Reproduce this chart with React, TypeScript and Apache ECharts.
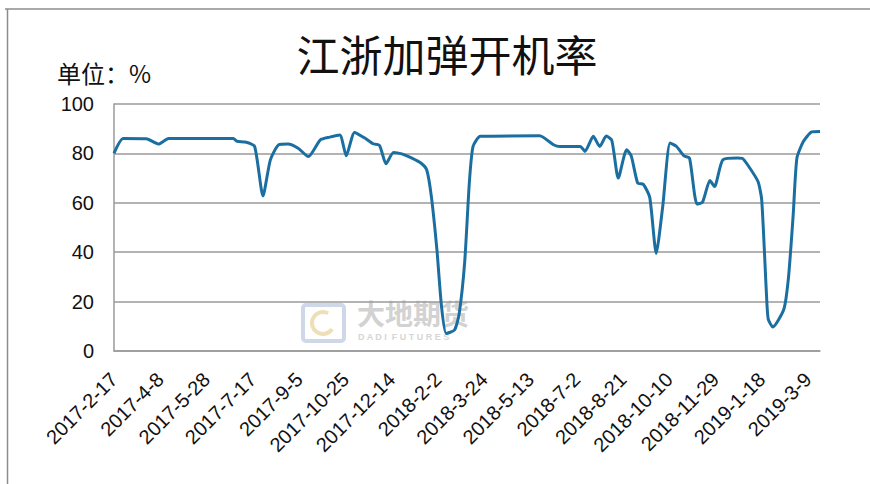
import React, { useEffect, useRef } from "react";
import * as echarts from "echarts";

const title = "江浙加弹开机率";
const unitLabel = "单位：%";
const startDate = "2017-2-17";
const endDate = "2019-3-22";
const labelStepDays = 50;
const yTicks = [0, 20, 40, 60, 80, 100];

const dates = [
  "2017-2-17", "2017-2-27", "2017-3-24", "2017-4-6", "2017-4-17", "2017-6-26", "2017-6-30", "2017-7-9",
  "2017-7-19", "2017-7-28", "2017-8-5", "2017-8-14", "2017-8-24", "2017-9-4", "2017-9-15", "2017-9-28",
  "2017-10-8", "2017-10-19", "2017-10-26", "2017-11-4", "2017-11-15", "2017-11-24", "2017-12-1", "2017-12-8",
  "2017-12-16", "2017-12-25", "2018-1-5", "2018-1-15", "2018-1-21", "2018-1-26", "2018-2-1", "2018-2-6",
  "2018-2-11", "2018-2-20", "2018-2-25", "2018-3-3", "2018-3-8", "2018-3-12", "2018-3-20", "2018-5-23",
  "2018-6-7", "2018-6-14", "2018-7-6", "2018-7-11", "2018-7-20", "2018-7-27", "2018-8-3", "2018-8-9",
  "2018-8-16", "2018-8-25", "2018-8-30", "2018-9-6", "2018-9-12", "2018-9-19", "2018-9-26", "2018-10-3",
  "2018-10-11", "2018-10-18", "2018-10-26", "2018-11-1", "2018-11-9", "2018-11-15", "2018-11-23", "2018-11-28",
  "2018-12-7", "2018-12-23", "2018-12-28", "2019-1-4", "2019-1-14", "2019-1-18", "2019-1-23", "2019-1-25",
  "2019-1-30", "2019-2-11", "2019-2-16", "2019-2-21", "2019-2-25", "2019-3-4", "2019-3-13", "2019-3-22",
];

const rates = [
  80, 86, 85.9, 83.8, 86, 86, 84.9, 84.6,
  82.8, 62.8, 77.4, 83.5, 83.8, 82.1, 78.7, 85.5,
  86.6, 87.5, 79, 88.5, 86.2, 83.9, 83.2, 75.8,
  80.4, 79.8, 78.1, 76, 73.3, 62.5, 40.9, 17.9,
  7.1, 8.5, 15, 36, 68, 82.8, 86.9, 87.1,
  83.5, 82.8, 82.8, 80.8, 86.9, 82.8, 87, 85.3,
  70, 81.5, 79, 67.9, 67.5, 62.2, 39.5, 58.4,
  84.2, 82.8, 79, 78.1, 59.5, 60.2, 69, 66.6,
  77.4, 78.1, 78, 74.7, 68.6, 61.2, 24, 13,
  9.7, 17, 30, 55, 78, 84.8, 88.7, 88.9,
];

const DAY = 86400000;
function toUTC(s: string) {
  const [y, m, d] = s.split("-").map(Number);
  return Date.UTC(y, m - 1, d);
}
function dayOffset(s: string) {
  return Math.round((toUTC(s) - toUTC(startDate)) / DAY);
}
function dayLabel(v: number) {
  const dt = new Date(toUTC(startDate) + v * DAY);
  return `${dt.getUTCFullYear()}-${dt.getUTCMonth() + 1}-${dt.getUTCDate()}`;
}

export default function App() {
  const ref = useRef<HTMLDivElement>(null);
  useEffect(() => {
    if (!ref.current) return;
    const chart = echarts.init(ref.current, null, { renderer: "svg" });
    const gray = "#9a9a9a";
    chart.setOption({
      animation: false,
      backgroundColor: "#ffffff",
      grid: { left: 114, right: 50, top: 104, bottom: 133, containLabel: false },
      title: {
        text: title,
        left: 442,
        top: 26,
        textAlign: "center",
        textStyle: { fontFamily: "Noto Sans CJK SC", fontSize: 43, fontWeight: "normal", color: "#111" },
      },
      graphic: [
        { type: "line", shape: { x1: 5, y1: 9, x2: 870, y2: 9 }, style: { stroke: "#8c8c8c", lineWidth: 1.5 } },
        { type: "line", shape: { x1: 7.5, y1: 9, x2: 7.5, y2: 484 }, style: { stroke: "#8c8c8c", lineWidth: 1.5 } },
        {
          type: "text",
          left: 57,
          top: 60,
          style: { text: unitLabel, font: "24px 'Noto Sans CJK SC'", fill: "#111" },
        },
        {
          type: "group",
          z: 1,
          children: [
            { type: "rect", shape: { x: 303, y: 305, width: 41, height: 36, r: 3 }, style: { fill: "none", stroke: "#cfd8e8", lineWidth: 4 } },
            { type: "arc", shape: { cx: 323, cy: 323, r: 11, startAngle: 0.6, endAngle: 5.2 }, style: { fill: "none", stroke: "#eedfb8", lineWidth: 4 } },
            { type: "text", x: 357, y: 299, style: { text: "大地期货", font: "bold 28px 'Noto Sans CJK SC'", fill: "#d2d2d2" } },
            { type: "text", x: 358, y: 332, style: { text: "D A D I  F U T U R E S", font: "bold 9px 'Liberation Sans'", fill: "#d6d6d6" } },
          ],
        },
      ],
      xAxis: {
        type: "value",
        min: 0,
        max: dayOffset(endDate),
        interval: labelStepDays,
        axisLine: { show: true, onZero: false, lineStyle: { color: gray, width: 1.5 } },
        axisTick: { show: false },
        splitLine: { show: false },
        axisLabel: {
          rotate: 45,
          margin: 25,
          showMaxLabel: false,
          color: "#111",
          fontSize: 20,
          fontFamily: "Liberation Sans",
          formatter: (v: number) => dayLabel(v),
        },
      },
      yAxis: {
        type: "value",
        min: yTicks[0],
        max: yTicks[yTicks.length - 1],
        interval: 20,
        axisLine: { show: true, lineStyle: { color: gray, width: 1.5 } },
        axisTick: { show: false },
        splitLine: { show: true, lineStyle: { color: gray, width: 1.5 } },
        axisLabel: { margin: 20, color: "#111", fontSize: 20, fontFamily: "Liberation Sans" },
      },
      series: [
        {
          type: "line",
          data: dates.map((d, i) => [dayOffset(d), rates[i]]),
          showSymbol: false,
          smooth: 0.2,
          z: 5,
          lineStyle: { color: "#1B6FA0", width: 3 },
        },
      ],
    });
    return () => chart.dispose();
  }, []);
  return <div ref={ref} style={{ width: 870, height: 484, position: "fixed", left: 0, top: 0 }} />;
}
